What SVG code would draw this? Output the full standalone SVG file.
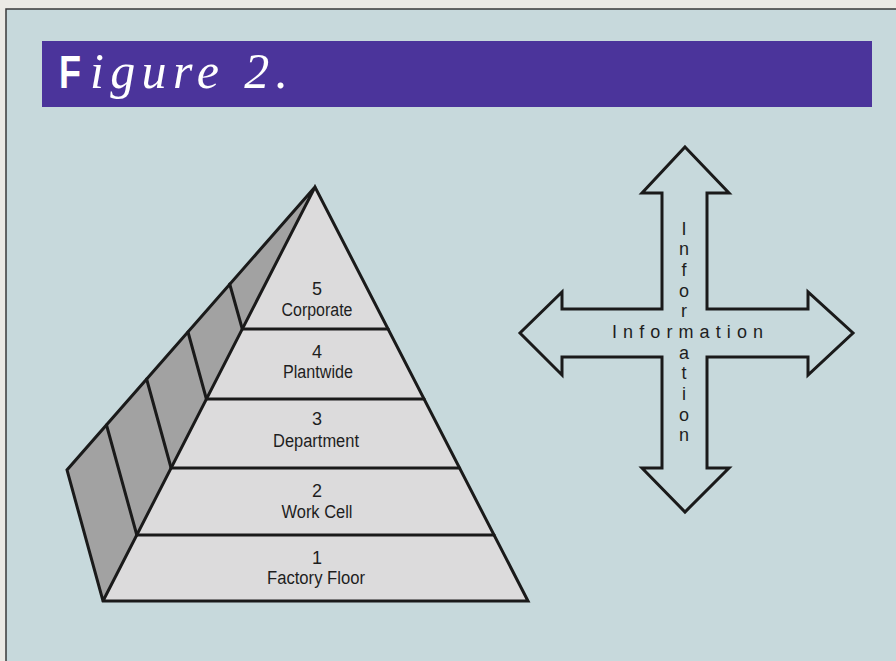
<svg xmlns="http://www.w3.org/2000/svg" width="896" height="661" viewBox="0 0 896 661">
<style>
.edge{fill:none;stroke:#1a1a1a;stroke-width:3;stroke-linejoin:miter;stroke-linecap:round}
.lvl{font-family:"Liberation Sans",Arial,sans-serif;font-size:18px;fill:#1e1e1e;text-anchor:middle}
.info{font-family:"Liberation Sans",Arial,sans-serif;font-size:18px;fill:#1e1e1e}
.vt{text-anchor:middle}
</style>
<rect x="0" y="0" width="896" height="661" fill="#ebeae5"/>
<rect x="6" y="9" width="892" height="654" fill="#c7d9dc" stroke="#3a3a3a" stroke-width="1.5"/>
<g id="title">
<rect x="42" y="41" width="830" height="66" fill="#4b349b"/>
<text x="59" y="88" font-family="'Liberation Sans',Arial,sans-serif" font-weight="bold" font-size="47" fill="#ffffff" textLength="22" lengthAdjust="spacingAndGlyphs">F</text>
<text x="90" y="88" font-family="'Liberation Serif','Times New Roman',serif" font-style="italic" font-size="50" fill="#ffffff" textLength="198" lengthAdjust="spacing">igure 2.</text>
</g>
<g id="pyramid">
<polygon points="315,187 67,470 103,601" fill="#a2a2a2"/>
<polygon points="315,187 103,601 528,601" fill="#dcdbdc"/>
<g class="edge">
<polyline points="315,187 67,470 103,601 528,601 315,187 103,601"/>
<line x1="229.7" y1="284" x2="242.3" y2="329"/>
<line x1="188" y1="332" x2="206.4" y2="399"/>
<line x1="146.6" y1="379" x2="171.1" y2="468"/>
<line x1="106.5" y1="425" x2="136.8" y2="535"/>
</g>
<g id="level5"><line class="edge" x1="242.3" y1="329" x2="388.1" y2="329"/><text class="lvl" x="317" y="295">5</text><text class="lvl" x="317" y="316" textLength="71" lengthAdjust="spacingAndGlyphs">Corporate</text></g>
<g id="level4"><line class="edge" x1="206.4" y1="399" x2="424.1" y2="399"/><text class="lvl" x="317" y="358">4</text><text class="lvl" x="318" y="378" textLength="70" lengthAdjust="spacingAndGlyphs">Plantwide</text></g>
<g id="level3"><line class="edge" x1="171.1" y1="468" x2="459.6" y2="468"/><text class="lvl" x="317" y="425">3</text><text class="lvl" x="316" y="447" textLength="86" lengthAdjust="spacingAndGlyphs">Department</text></g>
<g id="level2"><line class="edge" x1="136.8" y1="535" x2="494.1" y2="535"/><text class="lvl" x="317" y="497">2</text><text class="lvl" x="317" y="518" textLength="71" lengthAdjust="spacingAndGlyphs">Work Cell</text></g>
<g id="level1"><text class="lvl" x="317" y="564">1</text><text class="lvl" x="316" y="584" textLength="98" lengthAdjust="spacingAndGlyphs">Factory Floor</text></g>
</g>
<g id="information-cross">
<polygon class="edge" fill="#dcdbdc" points="685,147 729,193 707,193 707,309 808,309 808,292 853,333 808,375 808,357 707,357 707,468 729,468 685,512 642,468 662,468 662,357 562,357 562,375 520,333 562,292 562,309 662,309 662,193 642,193"/>
<text class="info" x="612" y="338" textLength="151" lengthAdjust="spacing">Information</text>
<g class="info vt">
<text x="684" y="235">I</text>
<text x="684" y="255">n</text>
<text x="684" y="276">f</text>
<text x="684" y="297">o</text>
<text x="684" y="317">r</text>
<text x="684" y="359">a</text>
<text x="684" y="379">t</text>
<text x="684" y="400">i</text>
<text x="684" y="421">o</text>
<text x="684" y="441">n</text>
</g>
</g>
</svg>
